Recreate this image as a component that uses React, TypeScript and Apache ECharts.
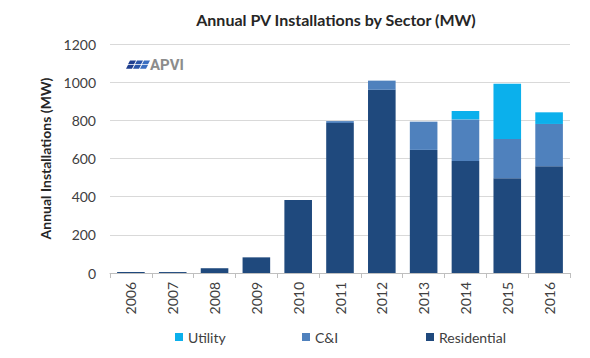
import React, { useEffect, useRef } from "react";
import * as echarts from "echarts";

const years = ["2006", "2007", "2008", "2009", "2010", "2011", "2012", "2013", "2014", "2015", "2016"];
const residential = [5, 5, 25, 82, 383, 786, 960, 645, 587, 496, 560];
const ci = [0, 0, 0, 0, 0, 10, 48, 148, 218, 206, 221];
const utility = [0, 0, 0, 0, 0, 0, 0, 0, 44, 290, 61];
const yTicks = [0, 200, 400, 600, 800, 1000, 1200];

const FONT = "Lato, 'Open Sans', sans-serif";

export default function App() {
  const ref = useRef<HTMLDivElement>(null);
  useEffect(() => {
    if (!ref.current) return;
    const chart = echarts.init(ref.current, null, { renderer: "svg" });
    const cells: any[] = [];
    const cols = ["#1F3F8F", "#2A55A8", "#3A6EC0"];
    for (let r = 0; r < 2; r++) {
      for (let c = 0; c < 3; c++) {
        const x0 = 128 + c * 7 - r * 2;
        const y0 = 60.5 + r * 4.5;
        cells.push({
          type: "polygon",
          shape: { points: [[x0 + 2, y0], [x0 + 8, y0], [x0 + 6, y0 + 3.8], [x0, y0 + 3.8]] },
          style: { fill: cols[c] },
          silent: true,
        });
      }
    }
    const legendBase = {
      top: 325,
      itemWidth: 8,
      itemHeight: 8,
      icon: "rect",
      itemGap: 5,
      textStyle: { fontFamily: FONT, fontSize: 14, color: "#404040" },
    };
    chart.setOption({
      animation: false,
      title: {
        text: "Annual PV Installations by Sector (MW)",
        left: 331,
        top: 6,
        textAlign: "center",
        textStyle: { fontFamily: FONT, fontSize: 16, fontWeight: "bold", color: "#262626" },
      },
      legend: [
        { ...legendBase, left: 170, data: ["Utility"] },
        { ...legendBase, left: 297, data: ["C&I"] },
        { ...legendBase, left: 421, data: ["Residential"] },
      ],
      grid: { left: 110, right: 20, top: 44, bottom: 85 },
      xAxis: {
        type: "category",
        data: years,
        axisLine: { lineStyle: { color: "#bfbfbf" } },
        axisTick: { show: true, alignWithLabel: false, length: 5, lineStyle: { color: "#bfbfbf" } },
        axisLabel: { rotate: 90, fontFamily: FONT, fontSize: 14, color: "#404040", margin: 9 },
      },
      yAxis: {
        type: "value",
        min: 0,
        max: 1200,
        interval: 200,
        name: "Annual Installations (MW)",
        nameLocation: "middle",
        nameGap: 58,
        nameTextStyle: { fontFamily: FONT, fontSize: 14, fontWeight: "bold", color: "#262626" },
        axisLine: { show: false },
        axisTick: { show: false },
        axisLabel: {
          fontFamily: FONT,
          fontSize: 14,
          color: "#404040",
          margin: 14,
          formatter: (v: number) => (yTicks.includes(v) ? String(v) : ""),
        },
        splitLine: { lineStyle: { color: "#d9d9d9" } },
      },
      series: [
        { name: "Residential", type: "bar", stack: "s", data: residential, barCategoryGap: "34%", itemStyle: { color: "#1F497D" } },
        { name: "C&I", type: "bar", stack: "s", data: ci, itemStyle: { color: "#4F81BD" } },
        { name: "Utility", type: "bar", stack: "s", data: utility, itemStyle: { color: "#0BB0EC" } },
      ],
      graphic: [
        ...cells,
        {
          type: "text",
          left: 150,
          top: 57,
          style: { text: "APVI", fontFamily: "Roboto, sans-serif", fontSize: 15, fontWeight: "bold", fill: "#8c8c8c" },
          silent: true,
        },
      ],
    });
    return () => chart.dispose();
  }, []);
  return <div ref={ref} style={{ position: "absolute", left: 0, top: 0, width: 590, height: 358 }} />;
}
